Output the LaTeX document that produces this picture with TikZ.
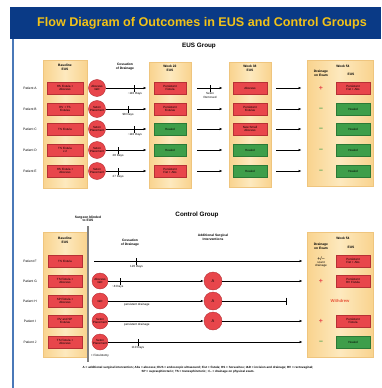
\documentclass[tikz,border=0pt]{standalone}
\usepackage{fontspec}
\setmainfont{Liberation Sans}
\usetikzlibrary{positioning,arrows.meta}

\definecolor{barBlue}{HTML}{0A3A86}
\definecolor{titleGold}{HTML}{F2C218}
\definecolor{edgeBlue}{HTML}{4A78B8}
\definecolor{colFill}{HTML}{FDE9BE}
\definecolor{colShade}{HTML}{F9D38E}
\definecolor{colEdge}{HTML}{EFC57E}
\definecolor{boxRed}{HTML}{E8464B}
\definecolor{boxRedEdge}{HTML}{B73035}
\definecolor{boxGreen}{HTML}{3E9E4A}
\definecolor{boxGreenEdge}{HTML}{2B7A36}
\definecolor{withdrewRed}{HTML}{E8553A}

\newcommand{\boxfont}{\fontsize{3}{3.4}\selectfont}
\newcommand{\hdrfont}{\fontsize{3.3}{3.8}\selectfont\bfseries}

\tikzset{
  col/.style={draw=colEdge, left color=colShade, right color=colShade, middle color=colFill,
    line width=0.8pt, inner sep=0},
  redbox/.style={draw=boxRedEdge, fill=boxRed, line width=0.4pt, minimum width=34pt,
    minimum height=12.5pt, inner sep=0.5pt, align=center, font=\boxfont},
  greenbox/.style={redbox, draw=boxGreenEdge, fill=boxGreen},
  proc/.style={circle, draw=boxRedEdge, fill=boxRed, line width=0.4pt, minimum size=17pt,
    inner sep=0, align=center, font=\boxfont},
  pat/.style={font=\fontsize{3.3}{3.6}\selectfont},
  hdr/.style={font=\hdrfont, align=center},
  grouphdr/.style={font=\fontsize{6.3}{7}\selectfont\bfseries},
  flow/.style={line width=0.6pt, -{Latex[length=3pt,width=2.4pt]}},
  flowbar/.style={line width=0.6pt, -{Bar[width=7pt,line width=1.1pt]}},
  tickm/.style={fill=black, minimum width=0.9pt, minimum height=7pt, inner sep=0},
  days/.style={font=\boxfont, align=center, inner sep=0.5pt},
  plussign/.style={text=boxRed, font=\fontsize{7}{7}\selectfont\bfseries},
  minussign/.style={text=boxGreen, font=\fontsize{7}{7}\selectfont\bfseries}
}

\begin{document}
\begin{tikzpicture}[x=1pt, y=-1pt]
\useasboundingbox (0,0) rectangle (381,388);
\fill[white] (0,0) rectangle (381,388);

% frame and title
\fill[barBlue] (10,7) rectangle (381,39);
\draw[edgeBlue, line width=2pt] (13,39) -- (13,388);
\node[text=titleGold, font=\fontsize{12.6}{14}\selectfont\bfseries] (title) at (202,23)
  {Flow Diagram of Outcomes in EUS and Control Groups};

%%% EUS group
\node[grouphdr] (eusHead) at (199,46) {EUS Group};

\node[col, minimum width=44pt, minimum height=128pt] (eBase) at (65,124) {};
\node[col, minimum width=42pt, minimum height=126pt] (eW22) at (170,125) {};
\node[col, minimum width=42pt, minimum height=125pt] (eW38) at (250,124.5) {};
\node[col, minimum width=66pt, minimum height=126pt] (eW54) at (340,123) {};

\node[hdr] at (65,67) {Baseline\\EUS};
\node[hdr] at (125,67) {Cessation\\of Drainage};
\node[hdr] at (170,68) {Week 22\\EUS};
\node[hdr] at (250,68) {Week 38\\EUS};
\node[hdr] at (343,66) {Week 54};
\node[hdr] at (321,73) {Drainage\\on Exam};
\node[hdr] at (351,74) {EUS};

\node[pat] (pA) at (30,88) {Patient A};
\node[pat] (pB) at (30,109) {Patient B};
\node[pat] (pC) at (30,129) {Patient C};
\node[pat] (pD) at (30,150) {Patient D};
\node[pat] (pE) at (30,171) {Patient E};

\node[redbox, minimum width=36pt] (eA0) at (65,88) {HS Fistula +\\Abscess};
\node[redbox, minimum width=36pt] (eB0) at (65,109) {RV + TS\\Fistulas};
\node[redbox, minimum width=36pt] (eC0) at (65,129) {TS Fistula};
\node[redbox, minimum width=36pt] (eD0) at (65,150) {TS Fistula\\x 2};
\node[redbox, minimum width=36pt] (eE0) at (65,171) {HS Fistula +\\Abscess};

\node[proc] (eA1) at (97,88) {Abscess\\I\&D};
\node[proc] (eB1) at (97,109) {Seton\\Placement};
\node[proc] (eC1) at (97,129) {Seton\\Placement};
\node[proc] (eD1) at (97,150) {Seton\\Placement};
\node[proc] (eE1) at (97,171) {Seton\\Placement};

\node[redbox, minimum width=32pt] (eA2) at (170,88) {Persistent\\Fistula};
\node[redbox, minimum width=32pt] (eB2) at (170,109) {Persistent\\Fistulas};
\node[greenbox, minimum width=32pt] (eC2) at (170,129) {Healed};
\node[greenbox, minimum width=32pt] (eD2) at (170,150) {Healed};
\node[redbox, minimum width=32pt] (eE2) at (170,171) {Persistent\\Fist + Abs};

\node[redbox] (eA3) at (250,88) {Abscess};
\node[redbox] (eB3) at (250,109) {Persistent\\Fistulas};
\node[redbox] (eC3) at (250,129) {New Small\\Abscess};
\node[greenbox] (eD3) at (250,150) {Healed};
\node[greenbox] (eE3) at (250,171) {Healed};

\node[plussign] (eA4) at (321,88) {+};
\node[minussign] (eB4) at (321,109) {--};
\node[minussign] (eC4) at (321,129) {--};
\node[minussign] (eD4) at (321,150) {--};
\node[minussign] (eE4) at (321,171) {--};

\node[redbox] (eA5) at (353,88) {Persistent\\Fist + Abs};
\node[greenbox] (eB5) at (353,109) {Healed};
\node[greenbox] (eC5) at (353,129) {Healed};
\node[greenbox] (eD5) at (353,150) {Healed};
\node[greenbox] (eE5) at (353,171) {Healed};

% cessation of drainage
\draw[flow, shorten >=2pt] (eA1) -- (eA1 -| eW22.west)
  node[tickm, pos=0.68] {} node[days, below=4pt, pos=0.68] {\textasciitilde110 Days};
\draw[flow, shorten >=2pt] (eB1) -- (eB1 -| eW22.west)
  node[tickm, pos=0.52] {} node[days, below=4pt, pos=0.52] {98 Days};
\draw[flow, shorten >=2pt] (eC1) -- (eC1 -| eW22.west)
  node[tickm, pos=0.68] {} node[days, below=4pt, pos=0.68] {\textasciitilde110 Days};
\draw[flow, shorten >=2pt] (eD1) -- (eD1 -| eW22.west)
  node[tickm, pos=0.29] {} node[days, below=4pt, pos=0.29] {28 Days};
\draw[flow, shorten >=2pt] (eE1) -- (eE1 -| eW22.west)
  node[tickm, pos=0.29] {} node[days, below=4pt, pos=0.29] {27 Days};

% week 22 to week 38
\draw[flow, shorten <=6pt, shorten >=6pt] (eA2 -| eW22.east) -- (eA2 -| eW38.west)
  node[tickm, pos=0.5] {} node[days, below=4pt, pos=0.5] {Seton\\Removed};
\draw[flow, shorten <=6pt, shorten >=6pt] (eB2 -| eW22.east) -- (eB2 -| eW38.west);
\draw[flow, shorten <=6pt, shorten >=6pt] (eC2 -| eW22.east) -- (eC2 -| eW38.west);
\draw[flow, shorten <=6pt, shorten >=6pt] (eD2 -| eW22.east) -- (eD2 -| eW38.west);
\draw[flow, shorten <=6pt, shorten >=6pt] (eE2 -| eW22.east) -- (eE2 -| eW38.west);

% week 38 to week 54
\draw[flow, shorten <=5pt, shorten >=5pt] (eA3 -| eW38.east) -- (eA3 -| eW54.west);
\draw[flow, shorten <=5pt, shorten >=5pt] (eB3 -| eW38.east) -- (eB3 -| eW54.west);
\draw[flow, shorten <=5pt, shorten >=5pt] (eC3 -| eW38.east) -- (eC3 -| eW54.west);
\draw[flow, shorten <=5pt, shorten >=5pt] (eD3 -| eW38.east) -- (eD3 -| eW54.west);
\draw[flow, shorten <=5pt, shorten >=5pt] (eE3 -| eW38.east) -- (eE3 -| eW54.west);

%%% Control group
\node[grouphdr] (ctrlHead) at (197,215) {Control Group};

\node[col, minimum width=44pt, minimum height=125pt] (cBase) at (65,294.5) {};
\node[col, minimum width=66pt, minimum height=125pt] (cW54) at (340,294.5) {};

\draw[gray, line width=1.2pt] (88,226) coordinate (sTop) -- (88,362) coordinate (sBot);
\node[hdr, above=0.5pt of sTop] (blind) {Surgeon blinded\\to EUS};

\node[hdr] at (65,240) {Baseline\\EUS};
\node[hdr] at (130,243) {Cessation\\of Drainage};
\node[hdr] at (213,237) {Additional Surgical\\Interventions};
\node[hdr] at (343,238) {Week 54};
\node[hdr] at (321,246) {Drainage\\on Exam};
\node[hdr] at (351,247) {EUS};

\node[pat] (pF) at (30,261) {Patient F};
\node[pat] (pG) at (30,281) {Patient G};
\node[pat] (pH) at (30,301) {Patient H};
\node[pat] (pI) at (30,321) {Patient I};
\node[pat] (pJ) at (30,342) {Patient J};

\node[redbox] (cA0) at (65,261) {TS Fistula};
\node[redbox] (cB0) at (65,281) {TS Fistula +\\Abscess};
\node[redbox] (cC0) at (65,301) {SP Fistula +\\Abscess};
\node[redbox] (cD0) at (65,321) {RV and SP\\Fistulas};
\node[redbox] (cE0) at (65,342) {TS Fistula +\\Abscess};

\node[proc, minimum size=16pt] (cB1) at (100,281) {Abscess\\I\&D};
\node[proc, minimum size=16pt] (cC1) at (100,301) {I\&D};
\node[proc, minimum size=16pt] (cD1) at (100,321) {Seton\\Placement};
\node[proc, minimum size=16pt] (cE1) at (100,342) {Seton\\Placement};
\node[font=\boxfont, below=0.5pt of cE1] (cE1note) {+ Fistulotomy};

\node[proc, minimum size=18pt, font=\fontsize{4}{4}\selectfont] (cB2) at (213,281) {A};
\node[proc, minimum size=18pt, font=\fontsize{4}{4}\selectfont] (cC2) at (213,301) {A};
\node[proc, minimum size=18pt, font=\fontsize{4}{4}\selectfont] (cD2) at (213,321) {A};

\node[font=\boxfont, align=center] (cA4) at (321,262) {{\fontsize{5}{5}\selectfont +/--}\\scant\\drainage};
\node[plussign] (cB4) at (321,281) {+};
\node[plussign] (cD4) at (321,321) {+};
\node[minussign] (cE4) at (321,342) {--};

\node[redbox] (cA5) at (353,261) {Persistent\\Fist + Abs};
\node[redbox] (cB5) at (353,281) {Persistent\\RV Fistula};
\node[text=withdrewRed, font=\fontsize{4.2}{5}\selectfont\bfseries] (cC5) at (340,301) {Withdrew};
\node[redbox] (cD5) at (353,321) {Persistent\\Fistula};
\node[greenbox] (cE5) at (353,342) {Healed};

\coordinate (cAs) at (94,261);
\coordinate (cCend) at (287,301);

\draw[flow, shorten >=4pt] (cAs) -- (cA0 -| cW54.west)
  node[tickm, pos=0.2] {} node[days, below=4pt, pos=0.2] {120 Days};
\draw[flow] (cB1) -- (cB2)
  node[tickm, pos=0.13] {} node[days, below=4pt, pos=0.1] {\textasciitilde8 Days};
\draw[flow, shorten >=4pt] (cB2) -- (cB2 -| cW54.west);
\draw[flow] (cC1) -- (cC2) node[days, below=1.5pt, pos=0.3] {persistent drainage};
\draw[flowbar] (cC2) -- (cCend);
\draw[flow] (cD1) -- (cD2) node[days, below=1.5pt, pos=0.3] {persistent drainage};
\draw[flow, shorten >=4pt] (cD2) -- (cD2 -| cW54.west);
\draw[flow, shorten >=4pt] (cE1) -- (cE1 -| cW54.west)
  node[tickm, pos=0.15] {} node[days, below=4pt, pos=0.15] {110 Days};

% footnote
\node[font=\fontsize{3}{3.6}\selectfont\bfseries, align=center] (foot) at (198,370)
  {A = additional surgical intervention; Abs = abscess; EUS = endoscopic ultrasound; Fist = fistula; HS = horseshoe; I\&D = incision and drainage; RV = rectovaginal;\\
   SP = suprasphincteric; TS = transsphincteric; +/-- = drainage on physical exam.};
\end{tikzpicture}
\end{document}
